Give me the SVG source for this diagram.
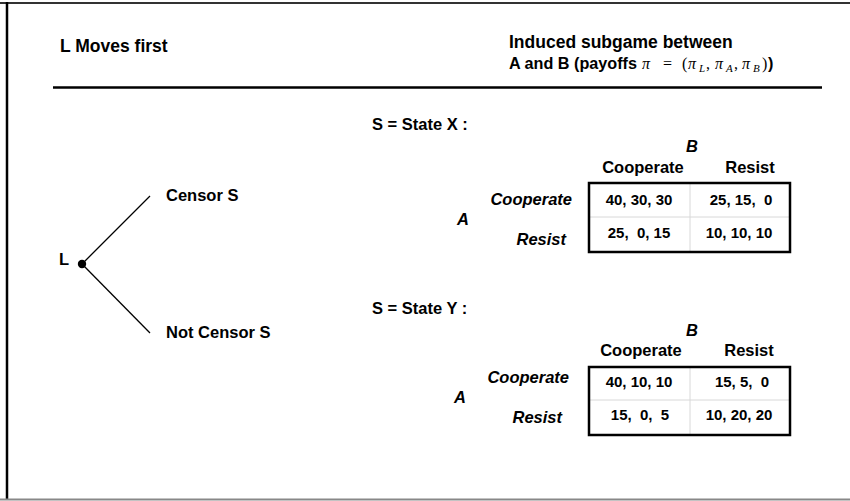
<svg xmlns="http://www.w3.org/2000/svg" width="850" height="501" viewBox="0 0 850 501">
<style>
  text { font-family: "Liberation Sans", Arial, Helvetica, sans-serif; fill: #000; }
  .hd { font-size: 17.5px; font-weight: bold; }
  .hd2 { font-size: 16.2px; font-weight: bold; }
  .lb { font-size: 16.5px; font-weight: bold; }
  .it { font-size: 16.5px; font-weight: bold; font-style: italic; }
  .cell { font-size: 15px; font-weight: bold; text-anchor: middle; }
  .m { font-family: "Liberation Serif", "Times New Roman", serif; font-size: 16px; font-weight: normal; }
  .mi { font-family: "Liberation Serif", "Times New Roman", serif; font-size: 16px; font-style: italic; font-weight: normal; }
  .ms { font-family: "Liberation Serif", "Times New Roman", serif; font-size: 11px; font-style: italic; font-weight: normal; }
  .box { fill: none; stroke: #000; stroke-width: 2.5; }
  .grid { stroke: #d8d8d8; stroke-width: 1; }
  .edge { stroke: #000; stroke-width: 1.3; }
</style>
<rect width="850" height="501" fill="#fff"/>
<g id="frame">
  <line x1="0" y1="3" x2="850" y2="3" stroke="#333" stroke-width="2"/>
  <line x1="7" y1="2" x2="7" y2="500" stroke="#000" stroke-width="2.5"/>
  <line x1="0" y1="499.5" x2="850" y2="499.5" stroke="#888" stroke-width="2"/>
</g>
<g id="header">
  <text class="hd" x="60" y="52">L Moves first</text>
  <text class="hd" x="509" y="48">Induced subgame between</text>
  <text class="hd2" x="509" y="69">A and B (payoffs</text>
  <text class="mi" x="642" y="69">π</text>
  <text class="m" x="663" y="69">=</text>
  <text class="m" x="682" y="69">(</text>
  <text class="mi" x="688" y="69">π</text>
  <text class="ms" x="699" y="72">L</text>
  <text class="m" x="706" y="69">,</text>
  <text class="mi" x="715" y="69">π</text>
  <text class="ms" x="726" y="72">A</text>
  <text class="m" x="734" y="69">,</text>
  <text class="mi" x="742" y="69">π</text>
  <text class="ms" x="753" y="72">B</text>
  <text class="m" x="762" y="69">)</text>
  <text class="hd2" x="768" y="69">)</text>
  <line x1="53" y1="87.5" x2="822" y2="87.5" stroke="#000" stroke-width="2.5"/>
</g>
<g id="connectors">
  <line class="edge" x1="82" y1="264" x2="150" y2="196"/>
  <line class="edge" x1="82" y1="264" x2="150" y2="333"/>
</g>
<g id="node-L">
  <circle cx="82" cy="264" r="4.2" fill="#000"/>
  <text class="lb" x="59" y="265">L</text>
</g>
<g id="node-censor">
  <text class="lb" x="166" y="201">Censor S</text>
</g>
<g id="node-notcensor">
  <text class="lb" x="166" y="338">Not Censor S</text>
</g>
<g id="game-X">
  <text class="lb" x="372" y="130">S = State X :</text>
  <text class="it" x="692" y="152" text-anchor="middle">B</text>
  <text class="lb" x="643" y="173" text-anchor="middle">Cooperate</text>
  <text class="lb" x="750" y="173" text-anchor="middle">Resist</text>
  <text class="it" x="572" y="205" text-anchor="end">Cooperate</text>
  <text class="it" x="566" y="245" text-anchor="end">Resist</text>
  <text class="it" x="463" y="225" text-anchor="middle">A</text>
  <line class="grid" x1="690" y1="183" x2="690" y2="252"/>
  <line class="grid" x1="589" y1="217" x2="790" y2="217"/>
  <rect class="box" x="589" y="183" width="201" height="69"/>
  <text class="cell" x="639" y="205">40, 30, 30</text>
  <text class="cell" x="741" y="205" xml:space="preserve">25, 15,  0</text>
  <text class="cell" x="639" y="238" xml:space="preserve">25,  0, 15</text>
  <text class="cell" x="739" y="238">10, 10, 10</text>
</g>
<g id="game-Y">
  <text class="lb" x="372" y="314">S = State Y :</text>
  <text class="it" x="692" y="336" text-anchor="middle">B</text>
  <text class="lb" x="641" y="356" text-anchor="middle">Cooperate</text>
  <text class="lb" x="749" y="356" text-anchor="middle">Resist</text>
  <text class="it" x="569" y="383" text-anchor="end">Cooperate</text>
  <text class="it" x="562" y="423" text-anchor="end">Resist</text>
  <text class="it" x="460" y="403" text-anchor="middle">A</text>
  <line class="grid" x1="690" y1="367" x2="690" y2="435"/>
  <line class="grid" x1="589" y1="400" x2="790" y2="400"/>
  <rect class="box" x="589" y="367" width="201" height="68"/>
  <text class="cell" x="639" y="387">40, 10, 10</text>
  <text class="cell" x="742" y="387" xml:space="preserve">15, 5,  0</text>
  <text class="cell" x="640" y="420" xml:space="preserve">15,  0,  5</text>
  <text class="cell" x="739" y="420">10, 20, 20</text>
</g>
</svg>
